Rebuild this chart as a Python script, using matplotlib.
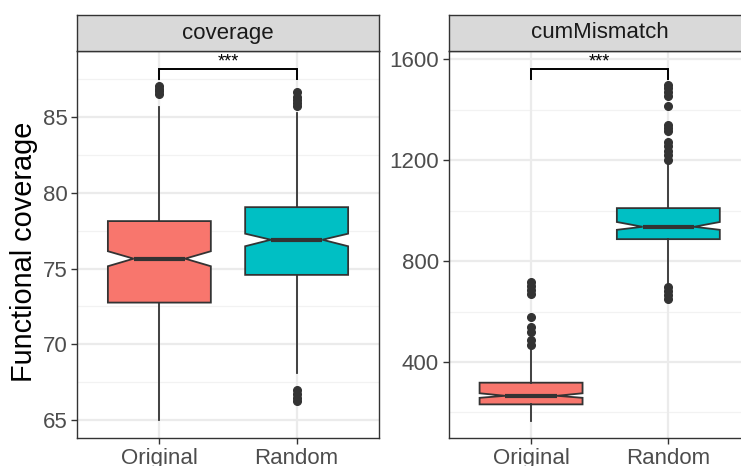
import matplotlib
matplotlib.use("Agg")
import matplotlib.pyplot as plt

plt.rcParams['font.family'] = ['Liberation Sans', 'DejaVu Sans']

groups = ["Original", "Random"]
colors = ["#F8766D", "#00BFC4"]
panels = ["coverage", "cumMismatch"]

# five-number summaries, notch limits and outliers per panel / group
cov_q1 = [72.75, 74.58]
cov_med = [75.65, 76.9]
cov_q3 = [78.13, 79.05]
cov_lo = [65.0, 68.1]
cov_hi = [85.65, 85.25]
cov_cilo = [75.15, 76.47]
cov_cihi = [76.14, 77.3]
cov_out = [[86.5, 86.7, 86.85, 87.05],
           [66.25, 66.45, 66.7, 67.0, 85.75, 85.95, 86.15, 86.35, 86.65]]

mis_q1 = [232, 887]
mis_med = [266, 936]
mis_q3 = [318, 1010]
mis_lo = [167, 713]
mis_hi = [451, 1189]
mis_cilo = [258, 924]
mis_cihi = [276, 955]
mis_out = [[467, 487, 520, 540, 580, 670, 685, 700, 717],
           [650, 665, 680, 697, 1202, 1220, 1238, 1255, 1273, 1316, 1328,
            1340, 1416, 1455, 1470, 1485, 1498]]

# significance bracket: (line y, tick bottom y)
brackets = [(88.17, 87.49), (1561, 1520)]
sig_label = "***"

yticks = [[65, 70, 75, 80, 85], [400, 800, 1200, 1600]]
yminor = [[67.5, 72.5, 77.5, 82.5, 87.5], [200, 600, 1000, 1400]]
ylims = [(63.81, 89.36), (98.7, 1632.9)]


def make_stats(q1, med, q3, lo, hi, cilo, cihi, out):
    stats = []
    for i in range(2):
        stats.append(dict(q1=q1[i], med=med[i], q3=q3[i], whislo=lo[i],
                          whishi=hi[i], cilo=cilo[i], cihi=cihi[i],
                          fliers=out[i], label=groups[i]))
    return stats


all_stats = [
    make_stats(cov_q1, cov_med, cov_q3, cov_lo, cov_hi, cov_cilo, cov_cihi, cov_out),
    make_stats(mis_q1, mis_med, mis_q3, mis_lo, mis_hi, mis_cilo, mis_cihi, mis_out),
]

W, H = 741, 466
fig = plt.figure(figsize=(W / 100, H / 100), dpi=100)

edge = "#333333"
lefts = [77, 448.7]
pw = 302
top, bottom, strip_h = 51, 438, 36

for k in range(2):
    ax = fig.add_axes([lefts[k] / W, (H - bottom) / H, pw / W, (bottom - top) / H])
    ax.set_xlim(0.4, 2.6)
    ax.set_ylim(*ylims[k])
    for y in yminor[k]:
        ax.axhline(y, color="#F2F2F2", lw=0.9, zorder=0)
    for y in yticks[k]:
        ax.axhline(y, color="#EBEBEB", lw=1.6, zorder=0)
    for x in [1, 2]:
        ax.axvline(x, color="#EBEBEB", lw=1.6, zorder=0)

    bp = ax.bxp(all_stats[k], positions=[1, 2], widths=0.75, shownotches=True,
                showcaps=False, patch_artist=True,
                boxprops=dict(edgecolor=edge, linewidth=1.3),
                whiskerprops=dict(color=edge, linewidth=1.3),
                medianprops=dict(color=edge, linewidth=3, solid_capstyle="butt"),
                flierprops=dict(marker="o", markerfacecolor=edge,
                                markeredgecolor=edge, markersize=5.5))
    for patch, c in zip(bp["boxes"], colors):
        patch.set_facecolor(c)

    by, bt = brackets[k]
    ax.plot([1, 1, 2, 2], [bt, by, by, bt], color="black", lw=1.4,
            solid_joinstyle="miter")
    ax.annotate(sig_label, xy=(1.5, by), xytext=(0, 2), textcoords="offset points",
                ha="center", va="baseline", fontsize=13, clip_on=True,
                annotation_clip=True)

    ax.set_yticks(yticks[k])
    ax.set_yticklabels([str(v) for v in yticks[k]])
    ax.set_xticks([1, 2])
    ax.set_xticklabels(groups)
    ax.tick_params(colors=edge, labelcolor="#4D4D4D", labelsize=16,
                   length=4, width=1.0, pad=3)
    for s in ax.spines.values():
        s.set_color(edge)
        s.set_linewidth(1.0)

    # facet strip
    sx = fig.add_axes([lefts[k] / W, (H - top) / H, pw / W, strip_h / H])
    sx.set_facecolor("#D9D9D9")
    sx.set_xticks([])
    sx.set_yticks([])
    for s in sx.spines.values():
        s.set_color(edge)
        s.set_linewidth(1.0)
    sx.text(0.5, 0.5, panels[k], ha="center", va="center", fontsize=16,
            color="#1A1A1A", transform=sx.transAxes)

fig.text(24 / W, 1 - 252 / H, "Functional coverage", rotation=90,
         ha="center", va="center", fontsize=20.8, color="black")

fig.savefig("out.png", dpi=100)
